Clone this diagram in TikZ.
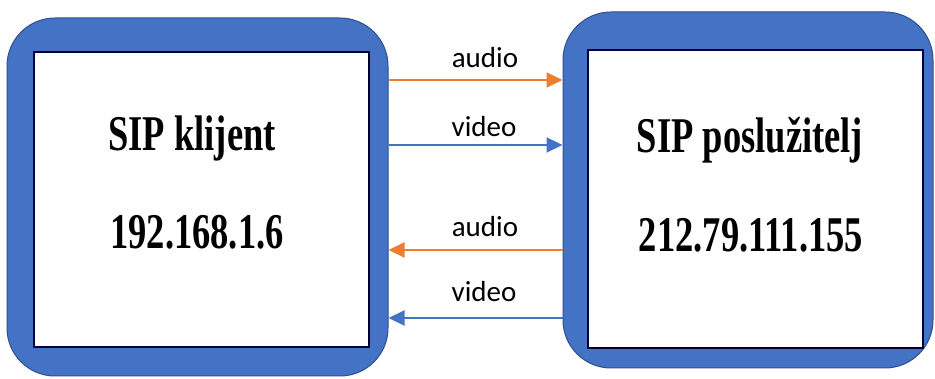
\documentclass[tikz,border=0pt]{standalone}
\usepackage{fontspec}
\usepackage{tikz}
\usetikzlibrary{arrows.meta}
\newfontfamily\boxfont[FakeStretch=0.73]{Liberation Serif}
\newfontfamily\labelfont{Carlito}
\definecolor{offblue}{HTML}{4472C4}
\definecolor{offorange}{HTML}{ED7D31}
\definecolor{darkedge}{HTML}{2F4F8F}
\tikzset{
    outerbox/.style={draw=darkedge,line width=1pt,fill=offblue,rounded corners=48pt},
    innerbox/.style={draw=black!80!blue,line width=1.5pt,fill=white},
    boxtext/.style={font=\boxfont\bfseries\fontsize{50}{54}\selectfont},
    flowlabel/.style={font=\labelfont\fontsize{29}{31}\selectfont,anchor=base},
    audioflow/.style={draw=offorange,line width=2pt,-{Triangle[length=16pt,width=15pt]}},
    videoflow/.style={draw=offblue,line width=2pt,-{Triangle[length=16pt,width=15pt]}}
}
\begin{document}
\begin{tikzpicture}[x=1pt,y=-1pt]
    \useasboundingbox (0,0) rectangle (935,379);

    % SIP klijent
    \node[outerbox,minimum width=381pt,minimum height=358pt] (klijent) at (197.5,197) {};
    \node[innerbox,minimum width=335pt,minimum height=295pt] (klijentin) at (201.5,199.5) {};
    \node[boxtext] (klijentime) at (192,138) {SIP klijent};
    \node[boxtext] (klijentip) at (197,232) {192.168.1.6};

    % SIP posluzitelj
    \node[outerbox,minimum width=370pt,minimum height=356pt] (posluzitelj) at (748,190) {};
    \node[innerbox,minimum width=335pt,minimum height=298pt] (posluziteljin) at (755.5,199) {};
    \node[boxtext] (posluziteljime) at (750,140) {SIP poslužitelj};
    \node[boxtext] (posluziteljip) at (751,235) {212.79.111.155};

    % klijent -> posluzitelj
    \draw[audioflow] (klijent.east |- 0,80) -- (posluzitelj.west |- 0,80);
    \node[flowlabel] (audioout) at (485,68) {audio};
    \draw[videoflow] (klijent.east |- 0,145) -- (posluzitelj.west |- 0,145);
    \node[flowlabel] (videoout) at (484,137) {video};

    % posluzitelj -> klijent
    \draw[audioflow] (posluzitelj.west |- 0,250) -- (klijent.east |- 0,250);
    \node[flowlabel] (audioin) at (485,237) {audio};
    \draw[videoflow] (posluzitelj.west |- 0,318) -- (klijent.east |- 0,318);
    \node[flowlabel] (videoin) at (484,302) {video};
\end{tikzpicture}
\end{document}
